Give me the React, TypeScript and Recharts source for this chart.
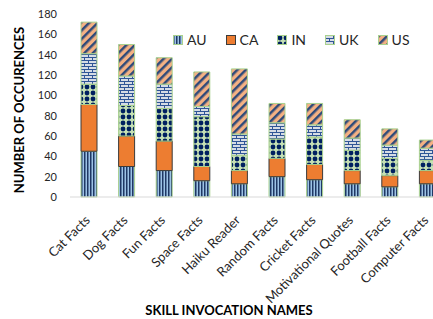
import { BarChart, Bar, XAxis, YAxis, Label } from 'recharts'

const skills = [
	'Cat Facts',
	'Dog Facts',
	'Fun Facts',
	'Space Facts',
	'Haiku Reader',
	'Random Facts',
	'Cricket Facts',
	'Motivational Quotes',
	'Football Facts',
	'Computer Facts',
]
const au = [45, 30, 26, 16, 13, 20, 17, 13, 10, 13]
const ca = [46, 30, 29, 14, 13, 18, 15, 13, 11, 13]
const inCounts = [20, 30, 32, 49, 15, 19, 27, 20, 17, 10]
const uk = [30, 29, 24, 10, 21, 16, 12, 12, 13, 12]
const us = [31, 31, 26, 34, 64, 19, 21, 18, 16, 8]
const yTicks = [0, 20, 40, 60, 80, 100, 120, 140, 160, 180]

const countries = [
	{ key: 'AU', fill: 'url(#pat-au)', stroke: '#a9d18e' },
	{ key: 'CA', fill: '#ed7d31', stroke: '#3b3b3b' },
	{ key: 'IN', fill: 'url(#pat-in)', stroke: '#a9d18e' },
	{ key: 'UK', fill: 'url(#pat-uk)', stroke: '#a9d18e' },
	{ key: 'US', fill: 'url(#pat-us)', stroke: '#a9d18e' },
]

const data = skills.map((name, i) => ({
	name,
	AU: au[i],
	CA: ca[i],
	IN: inCounts[i],
	UK: uk[i],
	US: us[i],
}))

const font = 'Lato, "Noto Sans", sans-serif'

function SkillTick({ x, y, payload }: any) {
	const tx = x + 2
	const ty = y + 16
	return (
		<text
			x={tx}
			y={ty}
			transform={`rotate(-45, ${tx}, ${ty})`}
			textAnchor="end"
			fontSize={13}
			fill="#262626"
			fontFamily={font}
		>
			{payload.value}
		</text>
	)
}

function Patterns() {
	return (
		<defs>
			<pattern id="pat-au" width="3" height="4" patternUnits="userSpaceOnUse">
				<rect width="3" height="4" fill="#9dc3e6" />
				<rect width="1.5" height="4" fill="#1f3864" />
			</pattern>
			<pattern id="pat-in" width="6" height="6" patternUnits="userSpaceOnUse">
				<rect width="6" height="6" fill="#c5e0b4" />
				<circle cx="3" cy="3" r="2.4" fill="#002060" />
			</pattern>
			<pattern id="pat-uk" width="8" height="6" patternUnits="userSpaceOnUse">
				<rect width="8" height="6" fill="#d6dce5" />
				<rect y="0" width="8" height="1" fill="#2f5597" />
				<rect y="3" width="8" height="1" fill="#2f5597" />
				<rect x="0" y="0" width="1" height="3" fill="#2f5597" />
				<rect x="4" y="3" width="1" height="3" fill="#2f5597" />
			</pattern>
			<pattern
				id="pat-us"
				width="6"
				height="6"
				patternUnits="userSpaceOnUse"
				patternTransform="rotate(45)"
			>
				<rect width="6" height="6" fill="#f4b183" />
				<rect width="2.5" height="6" fill="#2e4a7a" />
			</pattern>
		</defs>
	)
}

export default function App() {
	return (
		<div
			style={{
				position: 'absolute',
				left: 0,
				top: 0,
				width: 433,
				height: 319,
				overflow: 'hidden',
				background: '#fff',
			}}
		>
			<BarChart
				width={460}
				height={319}
				data={data}
				margin={{ top: 14, right: 14, bottom: 0, left: 0 }}
			>
				<Patterns />
				<XAxis
					dataKey="name"
					height={122}
					interval={0}
					tick={<SkillTick />}
					tickLine={false}
					axisLine={{ stroke: '#d9d9d9' }}
				>
					<Label
						content={() => (
							<text
								x={229}
								y={315}
								textAnchor="middle"
								fontSize={13}
								fontWeight="bold"
								fill="#000"
								fontFamily={font}
							>
								SKILL INVOCATION NAMES
							</text>
						)}
					/>
				</XAxis>
				<YAxis
					width={70}
					domain={[0, 180]}
					ticks={yTicks}
					interval={0}
					axisLine={false}
					tickLine={false}
					tickSize={0}
					tickMargin={13}
					tick={{ fontSize: 11, fill: '#262626', fontFamily: font }}
				>
					<Label
						content={() => (
							<text
								x={19}
								y={110}
								transform="rotate(-90, 19, 110)"
								textAnchor="middle"
								dominantBaseline="central"
								fontSize={13}
								fontWeight="bold"
								fill="#000"
								fontFamily={font}
							>
								NUMBER OF OCCURENCES
							</text>
						)}
					/>
				</YAxis>
				{countries.map((c) => (
					<Bar
						key={c.key}
						dataKey={c.key}
						stackId="a"
						fill={c.fill}
						stroke={c.stroke}
						strokeWidth={1}
						barSize={16}
						isAnimationActive={false}
					/>
				))}
			</BarChart>
			<div
				style={{
					position: 'absolute',
					left: 173,
					top: 31,
					display: 'flex',
					gap: 19,
					fontFamily: font,
					fontSize: 14,
					color: '#262626',
					alignItems: 'center',
				}}
			>
				{countries.map((c) => (
					<div key={c.key} style={{ display: 'flex', alignItems: 'center', gap: 4 }}>
						<svg width={10} height={10}>
							<rect
								x={0.5}
								y={0.5}
								width={9}
								height={9}
								fill={c.fill}
								stroke={c.stroke}
							/>
						</svg>
						<span>{c.key}</span>
					</div>
				))}
			</div>
		</div>
	)
}
